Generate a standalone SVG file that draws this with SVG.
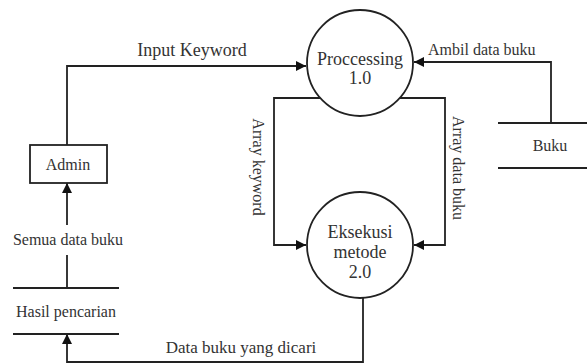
<svg xmlns="http://www.w3.org/2000/svg" width="587" height="364" viewBox="0 0 587 364">
<style>
text{font-family:"Liberation Serif","Times New Roman",serif;fill:#333;}
.t16{font-size:16px;}
.t17{font-size:17px;}
.t18{font-size:18px;}
.mid{text-anchor:middle;}
.ln{fill:none;stroke:#222;stroke-width:1.8;}
.shape{fill:#fff;stroke:#222;stroke-width:1.8;}
</style>
<defs>
<marker id="arr" viewBox="0 0 10 10" refX="10" refY="5" markerWidth="10" markerHeight="10" markerUnits="userSpaceOnUse" orient="auto">
<path d="M0,0 L10,5 L0,10 Z" fill="#111"/>
</marker>
</defs>
<g id="connectors">
<path class="ln" d="M67,145 V66 H306" marker-end="url(#arr)"/>
<path class="ln" d="M551,123 V62 H414" marker-end="url(#arr)"/>
<path class="ln" d="M320,98 H274 V245 H306" marker-end="url(#arr)"/>
<path class="ln" d="M400,98 H445 V245 H414" marker-end="url(#arr)"/>
<path class="ln" d="M363,298 V362 H67 V334" marker-end="url(#arr)"/>
<path class="ln" d="M67,288 V255"/>
<path class="ln" d="M67,225 V183" marker-end="url(#arr)"/>
<text class="t18 mid" x="192" y="56">Input Keyword</text>
<text class="t16" x="428" y="55">Ambil data buku</text>
<text class="t16 mid" transform="translate(253,167) rotate(90)">Array keyword</text>
<text class="t16 mid" transform="translate(453,168) rotate(90)">Array data buku</text>
<text class="t16 mid" x="68" y="245">Semua data buku</text>
<text class="t17 mid" x="241" y="353">Data buku yang dicari</text>
</g>
<g id="p1">
<circle class="shape" cx="360" cy="63" r="53"/>
<text class="t18 mid" x="360" y="65">Proccessing</text>
<text class="t18 mid" x="360" y="84">1.0</text>
</g>
<g id="p2">
<circle class="shape" cx="360" cy="245" r="53"/>
<text class="t18 mid" x="360" y="238">Eksekusi</text>
<text class="t18 mid" x="360" y="258">metode</text>
<text class="t18 mid" x="360" y="278">2.0</text>
</g>
<g id="admin">
<rect class="shape" x="30" y="145" width="77" height="38"/>
<text class="t16 mid" x="68" y="170">Admin</text>
</g>
<g id="hasil">
<path class="ln" d="M13,288 H119 M13,334 H119"/>
<text class="t16 mid" x="66" y="317">Hasil pencarian</text>
</g>
<g id="buku">
<path class="ln" d="M498,123 H587 M498,168 H587"/>
<text class="t16 mid" x="550" y="151">Buku</text>
</g>
</svg>
